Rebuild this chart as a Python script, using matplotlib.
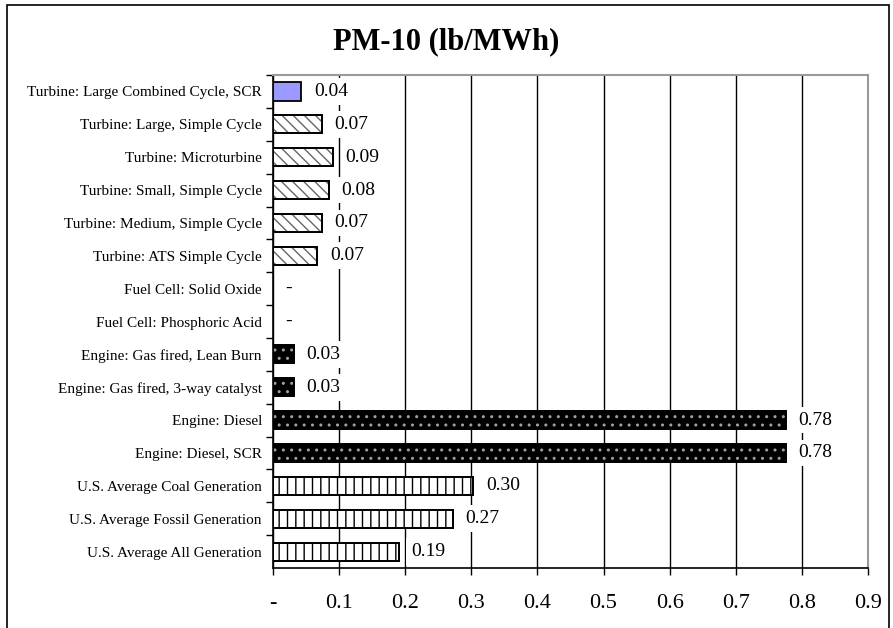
"""PM-10 emission rates by generation technology, horizontal bar chart."""
import matplotlib
matplotlib.use("Agg")
import matplotlib.pyplot as plt
from matplotlib.patches import Rectangle

plt.rcParams["font.family"] = ["Liberation Serif", "DejaVu Serif"]
plt.rcParams["hatch.linewidth"] = 1.0

categories = [
    "Turbine: Large Combined Cycle, SCR", "Turbine: Large, Simple Cycle",
    "Turbine: Microturbine", "Turbine: Small, Simple Cycle",
    "Turbine: Medium, Simple Cycle", "Turbine: ATS Simple Cycle",
    "Fuel Cell: Solid Oxide", "Fuel Cell: Phosphoric Acid",
    "Engine: Gas fired, Lean Burn", "Engine: Gas fired, 3-way catalyst",
    "Engine: Diesel", "Engine: Diesel, SCR",
    "U.S. Average Coal Generation", "U.S. Average Fossil Generation",
    "U.S. Average All Generation",
]
pm10 = [0.043, 0.074, 0.091, 0.084, 0.074, 0.067, 0.0, 0.0,
        0.032, 0.032, 0.776, 0.776, 0.303, 0.272, 0.190]
groups = ["ccgt", "turbine", "turbine", "turbine", "turbine", "turbine",
          "fuelcell", "fuelcell", "engine", "engine", "engine", "engine",
          "grid", "grid", "grid"]
x_ticks = [0, 0.1, 0.2, 0.3, 0.4, 0.5, 0.6, 0.7, 0.8, 0.9]

styles = {
    "ccgt": dict(facecolor="#9999ff", hatch=None, hatchcolor="black"),
    "turbine": dict(facecolor="white", hatch="\\\\\\", hatchcolor="#666666"),
    "fuelcell": dict(facecolor="white", hatch=None, hatchcolor="black"),
    "engine": dict(facecolor="black", hatch="..", hatchcolor="#a0a0a0"),
    "grid": dict(facecolor="white", hatch="||", hatchcolor="black"),
}

fig = plt.figure(figsize=(8.93, 6.28), dpi=100)
fig.patches.append(Rectangle((0.008, -0.01), 0.988, 1.002, transform=fig.transFigure,
                             fill=False, edgecolor="black", linewidth=1.2))
ax = fig.add_axes([0.3057, 0.0955, 0.6663, 0.785])

pos = list(range(len(categories)))
for y, val, grp in zip(pos, pm10, groups):
    st = styles[grp]
    if val > 0:
        ax.barh(y, val, height=0.55, color=st["facecolor"], edgecolor="black",
                linewidth=1.3, zorder=3)
        if st["hatch"]:
            # hatch in its own colour, then the black outline on top
            ax.barh(y, val, height=0.55, color="none", edgecolor=st["hatchcolor"],
                    linewidth=0, hatch=st["hatch"], zorder=3.1)
            ax.barh(y, val, height=0.55, color="none", edgecolor="black",
                    linewidth=1.3, zorder=3.2)
    label = "-" if val == 0 else f"{val:.2f}"
    ax.annotate(label, (val, y), xytext=(9, 0), textcoords="offset points",
                ha="left", va="center", fontsize=14, zorder=5,
                bbox=dict(boxstyle="square,pad=0.25", facecolor="white", edgecolor="none"))

ax.set_xlim(0, 0.9)
ax.set_ylim(len(categories) - 0.5, -0.5)
ax.set_xticks(x_ticks)
ax.set_xticklabels(["-"] + [f"{t:.1f}" for t in x_ticks[1:]], fontsize=16)
ax.set_yticks(pos)
ax.set_yticklabels(categories, fontsize=11)
ax.tick_params(axis="y", length=0, pad=8)
ax.set_yticks([p + 0.5 for p in pos[:-1]] + [-0.5], minor=True)
ax.tick_params(axis="y", which="minor", length=5, direction="out", width=1)
ax.tick_params(axis="x", length=5, direction="out", width=1, pad=14)

ax.grid(axis="x", color="black", linewidth=1.0, zorder=1)
ax.set_axisbelow(True)
for side in ("top", "right"):
    ax.spines[side].set_color("#999999")
    ax.spines[side].set_linewidth(1.5)
ax.spines["left"].set_linewidth(1.2)
ax.spines["bottom"].set_linewidth(1.2)

fig.suptitle("PM-10 (lb/MWh)", fontsize=22, fontweight="bold", y=0.933, va="center")

fig.savefig("out.png", dpi=100)
